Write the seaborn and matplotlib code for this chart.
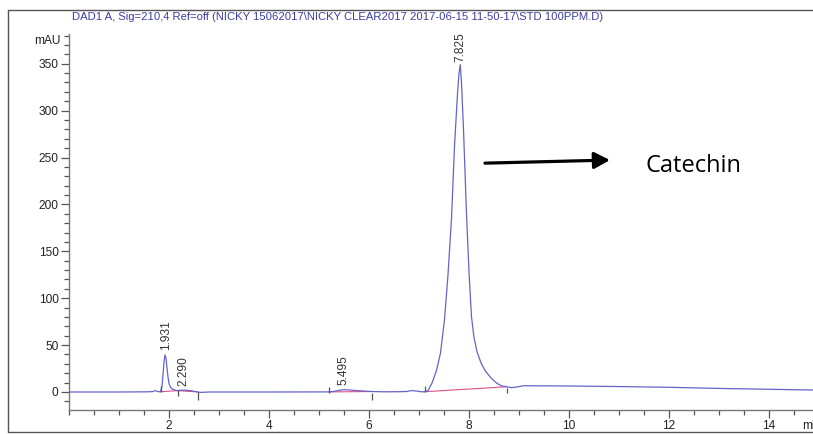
import numpy as np
import pandas as pd
import matplotlib
matplotlib.use("Agg")
import matplotlib.pyplot as plt
from matplotlib.lines import Line2D
from matplotlib.ticker import MultipleLocator, FixedLocator
import seaborn as sns

# ---------------- data ----------------
time_min = [0.0, 1.0, 1.6, 1.68, 1.72, 1.76, 1.80, 1.83,
            1.86, 1.88, 1.90, 1.92, 1.94, 1.96, 1.98, 2.00, 2.03, 2.07, 2.12, 2.17,
            2.22, 2.29, 2.36, 2.45, 2.55, 2.62, 2.70, 2.80,
            4.0, 5.2, 5.3, 5.4, 5.5, 5.6, 5.75, 5.9, 6.05, 6.3,
            6.6, 6.75, 6.85, 6.95, 7.05, 7.12,
            7.18, 7.26, 7.35, 7.43, 7.51, 7.58, 7.65, 7.71, 7.77, 7.80, 7.825,
            7.85, 7.89, 7.95, 8.00, 8.05, 8.10, 8.16, 8.24, 8.32, 8.44,
            8.55, 8.65, 8.76, 8.85, 8.95, 9.1, 9.3,
            10.0, 11.0, 12.0, 13.0, 14.0, 14.9]
signal_mau = [0.0, 0.0, 0.2, 0.5, 1.5, 0.8, 0.2, 0.3,
              6.0, 18.0, 32.0, 39.5, 36.0, 26.0, 16.0, 9.0, 5.0, 3.0, 2.0, 1.5,
              1.8, 2.0, 1.8, 1.2, 0.3, -0.4, -0.3, 0.0,
              0.0, 0.1, 0.6, 1.8, 2.5, 2.2, 1.5, 1.0, 0.5, 0.2,
              0.3, 0.5, 1.5, 1.0, 0.2, 0.3,
              1.5, 9.6, 23.0, 41.5, 77.0, 125.0, 185.0, 262.0, 318.0, 340.0, 349.0,
              330.0, 280.0, 190.0, 128.0, 80.0, 58.0, 43.0, 31.0, 23.0, 15.0,
              9.6, 6.5, 5.5, 4.6, 5.3, 6.7, 6.6,
              6.4, 5.8, 5.0, 3.8, 2.9, 2.1]

peak_rt = [1.931, 2.290, 5.495, 7.825]
peak_labels = ["1.931", "2.290", "5.495", "7.825"]
peak_label_base = [45.0, 6.0, 7.5, 352.0]

baseline_start_t = [1.83, 2.17, 5.20, 7.12]
baseline_start_y = [0.3, 1.4, 0.1, 0.3]
baseline_end_t = [2.17, 2.58, 6.05, 8.76]
baseline_end_y = [1.4, 0.1, 0.5, 5.6]

event_t = [1.83, 2.17, 2.58, 5.20, 6.05, 7.12, 8.76]
event_lo = [-0.5, -4.5, -8.5, -0.7, -8.5, 0.3, -1.0]
event_hi = [6.0, 2.0, 0.0, 5.6, -1.0, 6.4, 4.3]

y_major = [0, 50, 100, 150, 200, 250, 300, 350]
x_major = [2, 4, 6, 8, 10, 12, 14]

title = r"DAD1 A, Sig=210,4 Ref=off (NICKY 15062017\NICKY CLEAR2017 2017-06-15 11-50-17\STD 100PPM.D)"
annotation = "Catechin"

# ---------------- plotting ----------------
sns.set_style("white")
plt.rcParams["font.family"] = ["Liberation Sans", "DejaVu Sans"]

W, H = 813, 434
fig = plt.figure(figsize=(W / 100, H / 100), dpi=100)
ax = fig.add_axes([69 / W, (H - 410) / H, 1 - 69 / W, 376 / H])

df = pd.DataFrame({"t": time_min, "y": signal_mau})
trace_col = "#6464c8"
sns.lineplot(data=df, x="t", y="y", ax=ax, color=trace_col, lw=0.9, sort=False)

pink = "#e0508c"
for ts, ys, te, ye in zip(baseline_start_t, baseline_start_y, baseline_end_t, baseline_end_y):
    ax.plot([ts, te], [ys, ye], color=pink, lw=0.8, zorder=1)

ax.vlines(event_t, event_lo, event_hi, color="#555555", lw=0.9)

for rt, lab, yb in zip(peak_rt, peak_labels, peak_label_base):
    ax.text(rt, yb, lab, rotation=90, ha="center", va="bottom",
            fontsize=8.6, color="#333333")

ax.set_xlim(0, 14.88)
ax.set_ylim(-19.2, 381.7)

ax.xaxis.set_major_locator(FixedLocator(x_major))
ax.xaxis.set_minor_locator(MultipleLocator(0.5))
ax.yaxis.set_major_locator(FixedLocator(y_major))
ax.yaxis.set_minor_locator(MultipleLocator(10))
ax.tick_params(axis="both", which="both", bottom=True, left=True, top=False, right=False)
ax.tick_params(axis="both", which="major", direction="out", length=6, width=0.9,
               color="#555555", labelsize=8.6, labelcolor="#222222")
ax.tick_params(axis="both", which="minor", direction="out", length=3.5, width=0.9,
               color="#555555")
ax.tick_params(axis="y", which="major", pad=1.5)
ax.tick_params(axis="x", which="major", pad=1.5)
ax.set_xlabel("")
ax.set_ylabel("")

for side in ["top", "right"]:
    ax.spines[side].set_visible(False)
for side in ["left", "bottom"]:
    ax.spines[side].set_color("#777777")
    ax.spines[side].set_linewidth(1.0)

# axis unit labels
ax.text(-8 / W * (14.88 / (1 - 69 / W)), 374.6, "mAU", ha="right", va="center",
        fontsize=8.6, color="#222222", clip_on=False)
fig.text(802 / W, 1 - 426 / H, "min", ha="left", va="center", fontsize=8.6, color="#222222")

# title
fig.text(72 / W, 1 - 17 / H, title, ha="left", va="center", fontsize=8.1, color="#3c3ca8")

# arrow and annotation
ax.annotate("", xy=(10.82, 247.3), xytext=(8.32, 244.0),
            arrowprops=dict(arrowstyle="-|>,head_length=0.95,head_width=0.5",
                            lw=2.3, color="black", shrinkA=0, shrinkB=0))
ax.text(11.52, 241.0, annotation, ha="left", va="center", fontsize=17,
        color="black", family=["Open Sans", "DejaVu Sans"])

# outer frame of the report
frame_col = "#555555"
fig.add_artist(Line2D([8 / W, 8 / W], [(H - 432) / H, (H - 10) / H], color=frame_col, lw=1.0,
                      transform=fig.transFigure))
fig.add_artist(Line2D([8 / W, 1.0], [(H - 10) / H, (H - 10) / H], color=frame_col, lw=1.0,
                      transform=fig.transFigure))
fig.add_artist(Line2D([8 / W, 1.0], [(H - 432) / H, (H - 432) / H], color=frame_col, lw=1.0,
                      transform=fig.transFigure))

fig.savefig("out.png", dpi=100)
